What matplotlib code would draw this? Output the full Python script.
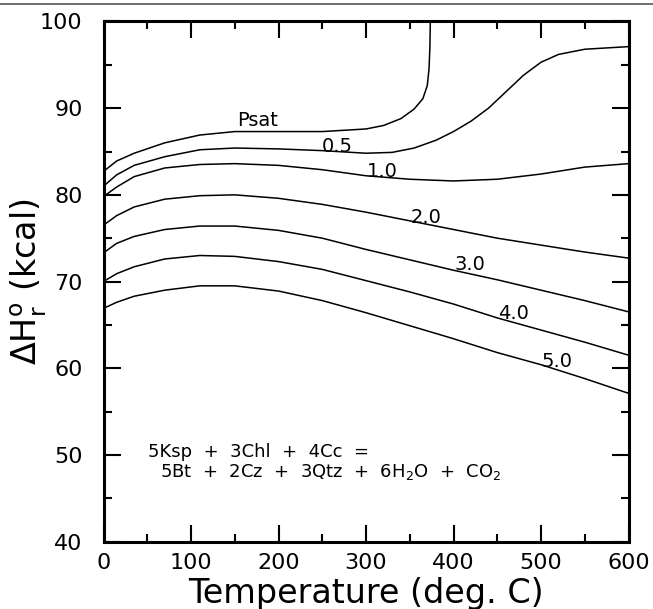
"""
plot.py - Entalpia de reaccion vs temperatura a varias presiones.
"""
import matplotlib
matplotlib.use("Agg")
import matplotlib.pyplot as plt
from matplotlib.lines import Line2D
from matplotlib.ticker import MultipleLocator

# --- datos (T en grados C, dH en kcal) ---
T_PSAT = [0, 15, 35, 70, 110, 150, 200, 250, 300, 320, 340, 355, 365, 370, 372, 373, 373.5]
H_PSAT = [82.7, 83.9, 84.8, 86.0, 86.9, 87.3, 87.3, 87.3, 87.6, 88.0, 88.8, 89.9, 91.1, 92.6, 94.5, 97.0, 100.0]

T_05 = [0, 15, 35, 70, 110, 150, 200, 250, 300, 330, 355, 380, 400, 420, 440, 460, 480, 500, 520, 550, 600]
H_05 = [81.0, 82.3, 83.4, 84.4, 85.2, 85.4, 85.3, 85.1, 84.8, 84.9, 85.4, 86.3, 87.3, 88.5, 90.0, 91.9, 93.8, 95.3, 96.2, 96.8, 97.1]

T_GRID = [0, 15, 35, 70, 110, 150, 200, 250, 300, 350, 400, 450, 500, 550, 600]
H_10 = [79.8, 80.9, 82.1, 83.1, 83.5, 83.6, 83.4, 82.9, 82.2, 81.8, 81.6, 81.8, 82.4, 83.2, 83.6]
H_20 = [76.5, 77.6, 78.6, 79.5, 79.9, 80.0, 79.6, 78.9, 78.0, 77.0, 76.0, 75.0, 74.2, 73.4, 72.7]
H_30 = [73.3, 74.4, 75.2, 76.0, 76.4, 76.4, 75.9, 75.0, 73.7, 72.5, 71.3, 70.2, 69.0, 67.8, 66.5]
H_40 = [70.0, 70.9, 71.7, 72.6, 73.0, 72.9, 72.3, 71.4, 70.1, 68.8, 67.4, 65.8, 64.4, 63.0, 61.5]
H_50 = [66.9, 67.6, 68.3, 69.0, 69.5, 69.5, 68.9, 67.8, 66.4, 64.9, 63.4, 61.8, 60.4, 58.8, 57.1]

# etiquetas de las curvas: texto, T centro, dH linea base
ETIQUETAS = ["Psat", "0.5", "1.0", "2.0", "3.0", "4.0", "5.0"]
ETIQ_T = [176, 267, 319, 369, 419, 468, 518]
ETIQ_H = [87.95, 84.9, 82.1, 76.8, 71.3, 65.65, 60.1]

REACCION_1 = "5Ksp  +  3Chl  +  4Cc  ="
REACCION_2 = r"5Bt  +  2Cz  +  3Qtz  +  6H$_2$O  +  CO$_2$"

plt.rcParams["font.family"] = ["DejaVu Sans"]
plt.rcParams["mathtext.fontset"] = "dejavusans"

fig = plt.figure(figsize=(6.53, 6.09), dpi=100)
ax = fig.add_axes([0.1585, 0.1108, 0.804, 0.8539])

curvas = [(T_PSAT, H_PSAT), (T_05, H_05), (T_GRID, H_10), (T_GRID, H_20),
          (T_GRID, H_30), (T_GRID, H_40), (T_GRID, H_50)]
for t, h in curvas:
    ax.plot(t, h, color="black", lw=1.1, solid_joinstyle="round")

for txt, t, h in zip(ETIQUETAS, ETIQ_T, ETIQ_H):
    ax.text(t, h, txt, ha="center", va="baseline", fontsize=14)

ax.text(51, 49.8, REACCION_1, ha="left", va="baseline", fontsize=13)
ax.text(64.5, 47.4, REACCION_2, ha="left", va="baseline", fontsize=13)

ax.set_xlim(0, 600)
ax.set_ylim(40, 100)
ax.xaxis.set_major_locator(MultipleLocator(100))
ax.xaxis.set_minor_locator(MultipleLocator(50))
ax.yaxis.set_major_locator(MultipleLocator(10))
ax.yaxis.set_minor_locator(MultipleLocator(5))

ax.tick_params(which="both", direction="in", top=True, right=True, width=1.5, color="black")
ax.tick_params(which="major", length=12)
ax.tick_params(which="minor", length=6)
ax.tick_params(axis="x", which="major", labelsize=16, pad=8)
ax.tick_params(axis="y", which="major", labelsize=16, pad=15)
for s in ax.spines.values():
    s.set_linewidth(2.2)

ax.set_xlabel("Temperature (deg. C)", fontsize=24, va="top")
ax.xaxis.set_label_coords(0.5, -0.068)
ax.set_ylabel(r"$\Delta \mathrm{H}^{\mathrm{o}}_{\mathrm{r}}$ (kcal)", fontsize=24, va="center")
ax.yaxis.set_label_coords(-0.142, 0.5)

# borde superior de la pagina escaneada
fig.add_artist(Line2D([0, 1], [1 - 4 / 609, 1 - 4 / 609], transform=fig.transFigure,
                      color="#555555", lw=1.2))

fig.savefig("out.png", dpi=100)
plt.close(fig)
